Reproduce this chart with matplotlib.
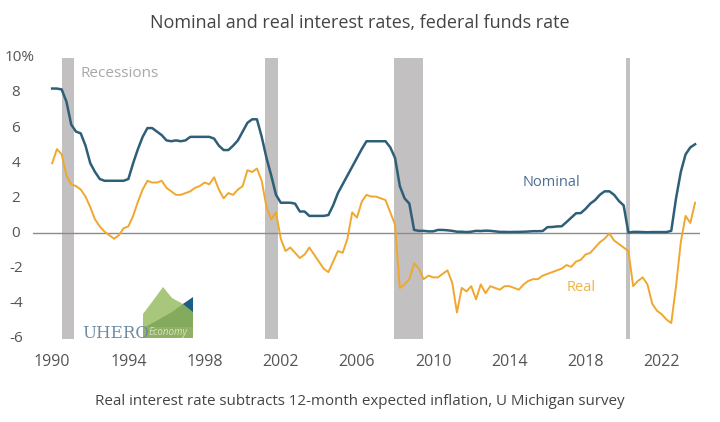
import matplotlib
matplotlib.use("Agg")
import matplotlib.pyplot as plt
import numpy as np
from matplotlib.patches import Polygon

plt.rcParams['font.family'] = ['Open Sans', 'DejaVu Sans']

# quarterly observations, 1990Q1 .. 2023Q4
start_year = 1990
nominal = [
    8.25, 8.25, 8.2, 7.5,    # 1990
    6.2, 5.8, 5.7, 5.0,      # 1991
    4.0, 3.5, 3.1, 3.0,      # 1992
    3.0, 3.0, 3.0, 3.0,      # 1993
    3.1, 4.0, 4.8, 5.5,      # 1994
    6.0, 6.0, 5.8, 5.6,      # 1995
    5.3, 5.25, 5.3, 5.25,    # 1996
    5.3, 5.5, 5.5, 5.5,      # 1997
    5.5, 5.5, 5.4, 5.0,      # 1998
    4.75, 4.75, 5.0, 5.3,    # 1999
    5.8, 6.3, 6.5, 6.5,      # 2000
    5.5, 4.3, 3.3, 2.2,      # 2001
    1.75, 1.75, 1.75, 1.7,   # 2002
    1.25, 1.25, 1.0, 1.0,    # 2003
    1.0, 1.0, 1.05, 1.6,     # 2004
    2.3, 2.8, 3.3, 3.8,      # 2005
    4.3, 4.8, 5.25, 5.25,    # 2006
    5.25, 5.25, 5.25, 4.9,   # 2007
    4.3, 2.7, 2.0, 1.7,      # 2008
    0.2, 0.15, 0.15, 0.12,   # 2009
    0.12, 0.2, 0.2, 0.18,    # 2010
    0.15, 0.1, 0.1, 0.08,    # 2011
    0.1, 0.15, 0.14, 0.16,   # 2012
    0.15, 0.12, 0.09, 0.09,  # 2013
    0.08, 0.09, 0.09, 0.1,   # 2014
    0.11, 0.13, 0.13, 0.14,  # 2015
    0.36, 0.37, 0.4, 0.41,   # 2016
    0.65, 0.9, 1.15, 1.16,   # 2017
    1.4, 1.7, 1.9, 2.2,      # 2018
    2.4, 2.4, 2.2, 1.85,     # 2019
    1.6, 0.05, 0.09, 0.09,   # 2020
    0.08, 0.07, 0.08, 0.08,  # 2021
    0.08, 0.08, 0.15, 2.0,   # 2022
    3.5, 4.5, 4.9, 5.08,     # 2023
]
real = [
    4.0, 4.8, 4.5, 3.3,      # 1990
    2.8, 2.7, 2.5, 2.1,      # 1991
    1.5, 0.8, 0.4, 0.1,      # 1992
    -0.1, -0.3, -0.1, 0.3,   # 1993
    0.4, 1.0, 1.8, 2.5,      # 1994
    3.0, 2.9, 2.9, 3.0,      # 1995
    2.6, 2.4, 2.2, 2.2,      # 1996
    2.3, 2.4, 2.6, 2.7,      # 1997
    2.9, 2.8, 3.2, 2.5,      # 1998
    2.0, 2.3, 2.2, 2.5,      # 1999
    2.7, 3.6, 3.5, 3.7,      # 2000
    3.0, 1.5, 0.8, 1.2,      # 2001
    -0.3, -1.0, -0.8, -1.1,  # 2002
    -1.4, -1.2, -0.8, -1.2,  # 2003
    -1.6, -2.0, -2.2, -1.6,  # 2004
    -1.0, -1.1, -0.3, 1.2,   # 2005
    0.9, 1.8, 2.2, 2.1,      # 2006
    2.1, 2.0, 1.9, 1.2,      # 2007
    0.5, -3.1, -2.9, -2.6,   # 2008
    -1.7, -2.0, -2.6, -2.4,  # 2009
    -2.5, -2.5, -2.3, -2.1,  # 2010
    -2.8, -4.5, -3.1, -3.3,  # 2011
    -3.0, -3.75, -2.9, -3.4, # 2012
    -3.0, -3.1, -3.2, -3.0,  # 2013
    -3.0, -3.1, -3.2, -2.9,  # 2014
    -2.7, -2.6, -2.6, -2.4,  # 2015
    -2.3, -2.2, -2.1, -2.0,  # 2016
    -1.8, -1.9, -1.6, -1.5,  # 2017
    -1.2, -1.1, -0.8, -0.5,  # 2018
    -0.3, 0.0, -0.4, -0.6,   # 2019
    -0.8, -1.0, -3.0, -2.7,  # 2020
    -2.5, -2.9, -4.0, -4.4,  # 2021
    -4.6, -4.9, -5.1, -3.0,  # 2022
    -0.5, 1.0, 0.6, 1.75,    # 2023
]
recession_start = [1990.5, 2001.17, 2007.92, 2020.12]
recession_end = [1991.17, 2001.85, 2009.45, 2020.35]
year_ticks = [1990, 1994, 1998, 2002, 2006, 2010, 2014, 2018, 2022]
rate_ticks = [-6, -4, -2, 0, 2, 4, 6, 8, 10]

dates = start_year + np.arange(len(nominal)) / 4

fig = plt.figure(figsize=(7.2, 4.22), dpi=100)
ax = fig.add_axes([0.046, 0.197, 0.926, 0.666])

for s, e in zip(recession_start, recession_end):
    ax.axvspan(s, e, color='#c2c0c0', lw=0, zorder=1)
ax.axhline(0, color='#8c8c8c', lw=1, zorder=2)

ax.plot(dates, nominal, color='#2f5f78', lw=1.8, zorder=3)
ax.plot(dates, real, color='#f0a72e', lw=1.4, zorder=3)

ax.text(1991.5, 9.1, 'Recessions', color='#a8a8a8', fontsize=11, va='center')
ax.text(2016.2, 2.9, 'Nominal', color='#4d6f93', fontsize=10.5, ha='center', va='center')
ax.text(2017.75, -3.1, 'Real', color='#f0b347', fontsize=10.5, ha='center', va='center')

ax.set_xlim(1989, 2024)
ax.set_ylim(-6, 10)
ax.set_xticks(year_ticks)
ax.set_yticks(rate_ticks)
ax.set_yticklabels([])
ax.tick_params(axis='y', length=0)
ax.tick_params(axis='x', length=0, pad=11, labelsize=11.5, labelcolor='#555555')
for sp in ax.spines.values():
    sp.set_visible(False)

# y labels centred in the left margin; the top one carries the % sign
ylab = ax.get_yaxis_transform()
for t in rate_ticks:
    if t == 10:
        ax.text(-0.042, t, f'{t}%', transform=ylab, ha='left', va='center',
                fontsize=11, color='#555555')
    else:
        ax.text(-0.026, t, str(t), transform=ylab, ha='center', va='center',
                fontsize=11, color='#555555')

fig.text(0.5, 0.946, 'Nominal and real interest rates, federal funds rate',
         ha='center', va='center', fontsize=13, color='#444444')
fig.text(0.5, 0.048, 'Real interest rate subtracts 12-month expected inflation, U Michigan survey',
         ha='center', va='center', fontsize=10.9, color='#444444')

# UHERO logo (pixel positions -> figure fraction)
def px(x, y):
    return (x / 720, 1 - y / 422)

logo = [
    ([(143, 338), (143, 314), (155, 298), (163, 287), (172, 298), (183, 304), (193, 308), (193, 338)], '#a9c77c'),
    ([(143, 338), (143, 328), (158, 320), (172, 312), (183, 304), (193, 298), (193, 338)], '#84aa5e'),
    ([(183, 304), (193, 297), (193, 312)], '#1d5e86'),
    ([(143, 338), (143, 327), (193, 327), (193, 338)], '#8fb066'),
]
for pts, col in logo:
    fig.patches.append(Polygon([px(*p) for p in pts], closed=True, transform=fig.transFigure,
                               facecolor=col, edgecolor='none', zorder=4))
fig.text(*px(82, 333), 'UHERO', family='DejaVu Serif', fontsize=12, color='#6d8ba3',
         va='center', ha='left', zorder=5)
fig.text(*px(168, 333), 'Economy', fontsize=7, color='#d6e5bd', style='italic',
         va='center', ha='center', zorder=5)

fig.savefig('out.png', dpi=100)
